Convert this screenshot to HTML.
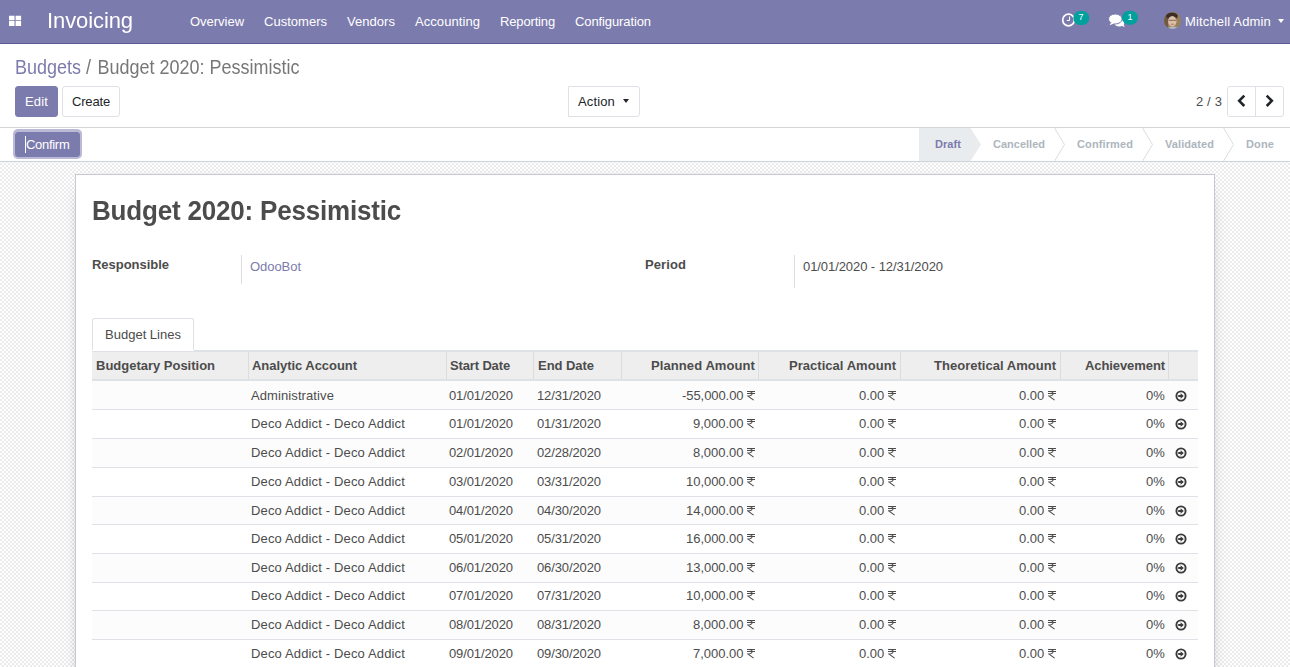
<!DOCTYPE html>
<html><head><meta charset="utf-8">
<style>
*{box-sizing:border-box}
html,body{margin:0;padding:0}
body{width:1290px;height:667px;overflow:hidden;position:relative;font-family:"Liberation Sans",sans-serif;font-size:13px;color:#4c4c4c;background:#fff}
.a{position:absolute;white-space:nowrap;line-height:13px}
.nav{position:absolute;left:0;top:0;width:1290px;height:44px;background:#7c7bad;border-bottom:1px solid #5b5a94}
.sq{position:absolute;background:#fff;width:5px;height:4px}
.cp{position:absolute;left:0;top:44px;width:1290px;height:84px;background:#fff;border-bottom:1px solid #d6d6d6}
.btn{position:absolute;border:1px solid #dee2e6;border-radius:3px;background:#fff}
.btn.pri{background:#7c7bad;border-color:#7c7bad}
.sb{position:absolute;left:0;top:128px;width:1290px;height:34px;background:#fff;border-bottom:1px solid #ced4da}
.bg{position:absolute;left:0;top:162px;width:1290px;height:505px;background-color:#fff;background-image:repeating-conic-gradient(#ebebeb 0 25%,#fff 0 50%);background-size:4px 4px;background-position:0 3px}
.sheet{position:absolute;left:75px;top:174px;width:1140px;height:520px;background:#fff;border:1px solid #c8c8d3;box-shadow:0 5px 20px -15px #000}
.fsep{position:absolute;top:255px;width:1px;height:33px;background:#ddd}
.tab{position:absolute;left:92px;top:318px;width:102px;height:32px;border:1px solid #dee2e6;border-bottom:none;border-radius:3px 3px 0 0;background:#fff;z-index:0}
.thead{position:absolute;background:#eee;border-top:1px solid #dee2e6;border-bottom:2px solid #dee2e6}
.vsep{position:absolute;top:352px;width:1px;height:27px;background:#dcdcdc}
.row{position:absolute;left:92px;width:1106px;border-bottom:1px solid #dee2e6}
.row.o{background:#fcfcfc}
.inr{display:inline-block;width:8px;height:10px;vertical-align:-1px}
.arr{display:block}
.caret{position:absolute;width:0;height:0;border-top:4px solid #fff;border-left:3.5px solid transparent;border-right:3.5px solid transparent}
.avatar{position:absolute;left:1164px;top:12px;width:17px;height:17px;border-radius:50%;background:radial-gradient(circle at 50% 55%,#e9c4a6 0,#c89a7a 30%,#7a5a45 60%,#4a3a30 100%)}
</style></head><body>
<div class="nav">
<svg style="position:absolute;left:0;top:0" width="30" height="30" viewBox="0 0 30 30"><path d="M9 15.8h5.5v4.4H9zM15.6 15.8h5.5v4.4h-5.5zM9 21.1h5.5v4.9H9zM15.6 21.1h5.5v4.9h-5.5z" fill="#fff"/></svg>
<div class="a" style="left:47px;top:10px;font-size:22px;line-height:22px;color:#fff;letter-spacing:-0.092px;transform:scaleY(1.04);transform-origin:0 18px">Invoicing</div>
<div class="a" style="left:190px;top:15px;color:#fff;letter-spacing:-0.023px">Overview</div>
<div class="a" style="left:264.0px;top:15px;color:#fff;letter-spacing:0.016px">Customers</div>
<div class="a" style="left:347.0px;top:15px;color:#fff;letter-spacing:0.040px">Vendors</div>
<div class="a" style="left:415.0px;top:15px;color:#fff;letter-spacing:0.066px">Accounting</div>
<div class="a" style="left:500.0px;top:15px;color:#fff;letter-spacing:-0.155px">Reporting</div>
<div class="a" style="left:575.0px;top:15px;color:#fff;letter-spacing:-0.105px">Configuration</div>
<div class="a" style="left:1185px;top:15px;color:#fff;letter-spacing:0.155px">Mitchell Admin</div>
<div class="caret" style="left:1278px;top:19px;border-top-color:#fff"></div>
<svg style="position:absolute;left:1060px;top:11px" width="30" height="17" viewBox="0 0 30 17"><circle cx="8.5" cy="9" r="5.8" fill="none" stroke="#fff" stroke-width="1.7"/><path d="M9.5 5.5V9.5H6.8" fill="none" stroke="#fff" stroke-width="1"/><rect x="13.3" y="0" width="16" height="14" rx="7" fill="#00a09d"/></svg>
<div class="a" style="left:1078.5px;top:13px;font-size:9px;line-height:9px;color:#fff">7</div>
<svg style="position:absolute;left:1106px;top:10px" width="34" height="18" viewBox="0 0 34 18"><ellipse cx="13.3" cy="13" rx="5" ry="3.6" fill="#fff"/><path d="M15.5 15.5L18.6 17.2 17.6 14z" fill="#fff"/><ellipse cx="9.3" cy="9" rx="6.8" ry="5" fill="#fff" stroke="#7c7bad" stroke-width="1"/><path d="M5.2 12.3L3.6 15.2 8.5 13.2z" fill="#fff"/><rect x="16" y="0.7" width="16" height="14" rx="7" fill="#00a09d"/></svg>
<div class="a" style="left:1127.5px;top:13px;font-size:9px;line-height:9px;color:#fff">1</div>
<svg style="position:absolute;left:1164px;top:12px" width="17" height="17" viewBox="0 0 17 17"><defs><clipPath id="av"><circle cx="8.5" cy="8.5" r="8.5"/></clipPath></defs><filter id="bl"><feGaussianBlur stdDeviation="0.45"/></filter><g clip-path="url(#av)"><rect width="17" height="17" fill="#9a8058"/><g filter="url(#bl)"><rect x="-1" y="0" width="5" height="17" fill="#6f5a40"/><ellipse cx="8" cy="4" rx="5.8" ry="3.6" fill="#3a2e28"/><ellipse cx="8.3" cy="9.3" rx="4.2" ry="5.3" fill="#dcbfa8"/><path d="M4.6 8.3H12.2" stroke="#4a3a34" stroke-width="0.9" opacity=".7"/><ellipse cx="8.3" cy="12.4" rx="1.8" ry="0.8" fill="#c07a70" opacity=".8"/><ellipse cx="9" cy="17.5" rx="6" ry="3" fill="#a9bcc4"/></g></g></svg>
</div>
<div class="cp"></div>
<div class="a" style="left:15px;top:59px;font-size:18px;line-height:18px;color:#7c7bad;letter-spacing:-0.009px;transform:scaleY(1.077);transform-origin:0 15px">Budgets</div>
<div class="a" style="left:86px;top:59px;font-size:18px;line-height:18px;color:#777;transform:scaleY(1.077);transform-origin:0 15px">/</div>
<div class="a" style="left:97.5px;top:59px;font-size:18px;line-height:18px;color:#777;letter-spacing:-0.006px;transform:scaleY(1.077);transform-origin:0 15px">Budget 2020: Pessimistic</div>
<div class="btn pri" style="left:15px;top:86px;width:43px;height:31px"></div>
<div class="a" style="left:25px;top:95px;color:#fff;letter-spacing:0.148px">Edit</div>
<div class="btn" style="left:62px;top:86px;width:58px;height:31px"></div>
<div class="a" style="left:72px;top:95px;color:#212529;letter-spacing:-0.172px">Create</div>
<div class="btn" style="left:568px;top:86px;width:72px;height:31px;border-radius:0 3px 3px 0"></div>
<div class="caret" style="left:623px;top:99px;border-top-color:#212529"></div>
<div class="a" style="left:578px;top:95px;color:#212529;letter-spacing:0.143px">Action</div>
<div class="a" style="left:1196px;top:95px;letter-spacing:0.141px">2 / 3</div>
<div class="btn" style="left:1227px;top:86px;width:57px;height:31px"></div>
<div style="position:absolute;left:1255px;top:87px;width:1px;height:29px;background:#dee2e6"></div>
<svg style="position:absolute;left:1236px;top:94px" width="11" height="14" viewBox="0 0 11 14"><path d="M8.3 1.6L3.2 6.8 8.3 12" fill="none" stroke="#212529" stroke-width="2.6"/></svg>
<svg style="position:absolute;left:1264px;top:94px" width="11" height="14" viewBox="0 0 11 14"><path d="M2.7 1.6L7.8 6.8 2.7 12" fill="none" stroke="#212529" stroke-width="2.6"/></svg>
<div class="sb"></div>
<div class="btn pri" style="left:15px;top:132px;width:65px;height:25px;box-shadow:0 0 0 2px #bab9d6,0 -1px 0 2px #bab9d6"></div>
<div class="a" style="left:26px;top:138px;color:#fff;letter-spacing:-0.074px;letter-spacing:-0.3px">Confirm</div>
<div style="position:absolute;left:25px;top:136px;width:1px;height:17px;background:#fff"></div>
<svg style="position:absolute;left:0;top:128px" width="1290" height="33" viewBox="0 0 1290 33"><path d="M919 0H970.5L981 16.5 970.5 33H919z" fill="#e9ecef"/><path d="M1054 -1L1064.5 16.5 1054 34M1142 -1L1152.5 16.5 1142 34M1223 -1L1233.5 16.5 1223 34" fill="none" stroke="#d9dde2" stroke-width="1"/></svg>
<div class="a" style="left:935px;top:139px;font-size:11px;line-height:11px;font-weight:bold;color:#7c7bad;letter-spacing:0.069px">Draft</div>
<div class="a" style="left:993px;top:139px;font-size:11px;line-height:11px;font-weight:bold;color:#adb5bd">Cancelled</div>
<div class="a" style="left:1077px;top:139px;font-size:11px;line-height:11px;font-weight:bold;color:#adb5bd;letter-spacing:0.111px">Confirmed</div>
<div class="a" style="left:1165px;top:139px;font-size:11px;line-height:11px;font-weight:bold;color:#adb5bd;letter-spacing:0.075px">Validated</div>
<div class="a" style="left:1246px;top:139px;font-size:11px;line-height:11px;font-weight:bold;color:#adb5bd;letter-spacing:0.125px">Done</div>
<div class="bg"></div>
<div class="sheet"></div>
<div class="a" style="left:92px;top:198px;font-size:26px;line-height:26px;font-weight:bold;letter-spacing:-0.186px;transform:scaleY(1.056);transform-origin:0 22px">Budget 2020: Pessimistic</div>
<div class="a" style="left:92px;top:258px;font-weight:bold;letter-spacing:-0.027px">Responsible</div>
<div class="fsep" style="left:241px;height:29px"></div>
<div class="a" style="left:250px;top:260px;color:#7c7bad;letter-spacing:-0.047px">OdooBot</div>
<div class="a" style="left:645px;top:258px;font-weight:bold;letter-spacing:0.091px">Period</div>
<div class="fsep" style="left:794px"></div>
<div class="a" style="left:803px;top:260px;letter-spacing:-0.075px">01/01/2020 - 12/31/2020</div>
<div class="tab"></div>
<div class="a" style="left:105px;top:328px;letter-spacing:0.007px">Budget Lines</div>
<div style="position:absolute;left:194px;top:350px;width:1004px;height:1px;background:#dee2e6"></div>
<div class="thead" style="left:92px;top:351px;width:1106px;height:30px"></div>
<div class="a" style="left:96px;top:359px;font-weight:bold;letter-spacing:-0.010px">Budgetary Position</div>
<div class="vsep" style="left:248px"></div>
<div class="a" style="left:252px;top:359px;font-weight:bold;letter-spacing:-0.044px">Analytic Account</div>
<div class="vsep" style="left:446px"></div>
<div class="a" style="left:450px;top:359px;font-weight:bold;letter-spacing:-0.142px">Start Date</div>
<div class="vsep" style="left:533px"></div>
<div class="a" style="left:538px;top:359px;font-weight:bold;letter-spacing:-0.043px">End Date</div>
<div class="vsep" style="left:621px"></div>
<div class="a" style="right:535px;top:359px;font-weight:bold;letter-spacing:0.087px">Planned Amount</div>
<div class="vsep" style="left:758px"></div>
<div class="a" style="right:394px;top:359px;font-weight:bold;letter-spacing:0.035px">Practical Amount</div>
<div class="vsep" style="left:900px"></div>
<div class="a" style="right:234px;top:359px;font-weight:bold;letter-spacing:0.023px">Theoretical Amount</div>
<div class="vsep" style="left:1060px"></div>
<div class="a" style="right:125px;top:359px;font-weight:bold;letter-spacing:-0.085px">Achievement</div>
<div class="vsep" style="left:1168px"></div>
<div class="row o" style="top:381px;height:29px"></div>
<div class="a" style="left:251px;top:389px;letter-spacing:0.096px">Administrative</div>
<div class="a" style="left:449px;top:389px;letter-spacing:-0.109px">01/01/2020</div>
<div class="a" style="left:537px;top:389px;letter-spacing:-0.109px">12/31/2020</div>
<div class="a" style="right:535px;top:389px;letter-spacing:-0.072px">-55,000.00 <svg class="inr" viewBox="0 0 8 10"><path d="M0 .5H8M0 2.5H8M2 .5C6.3 .5 6.3 4.9 .8 4.9L6.6 9.1" fill="none" stroke="#4c4c4c" stroke-width="1.05"/></svg></div>
<div class="a" style="right:394px;top:389px;letter-spacing:0.016px">0.00 <svg class="inr" viewBox="0 0 8 10"><path d="M0 .5H8M0 2.5H8M2 .5C6.3 .5 6.3 4.9 .8 4.9L6.6 9.1" fill="none" stroke="#4c4c4c" stroke-width="1.05"/></svg></div>
<div class="a" style="right:234px;top:389px;letter-spacing:0.016px">0.00 <svg class="inr" viewBox="0 0 8 10"><path d="M0 .5H8M0 2.5H8M2 .5C6.3 .5 6.3 4.9 .8 4.9L6.6 9.1" fill="none" stroke="#4c4c4c" stroke-width="1.05"/></svg></div>
<div class="a" style="right:125px;top:389px;letter-spacing:0.102px">0%</div>
<div style="position:absolute;left:1174.5px;top:390px"><svg class="arr" width="12" height="12" viewBox="0 0 12 12"><circle cx="6" cy="6" r="4.6" fill="none" stroke="#3a3a3a" stroke-width="1.9"/><path d="M3.2 5.1H5.6V3.2L8.8 6 5.6 8.8V6.9H3.2z" fill="#3a3a3a"/></svg></div>
<div class="row" style="top:410px;height:29px"></div>
<div class="a" style="left:251px;top:417px;letter-spacing:0.147px">Deco Addict - Deco Addict</div>
<div class="a" style="left:449px;top:417px;letter-spacing:-0.109px">01/01/2020</div>
<div class="a" style="left:537px;top:417px;letter-spacing:-0.109px">01/31/2020</div>
<div class="a" style="right:535px;top:417px;letter-spacing:-0.026px">9,000.00 <svg class="inr" viewBox="0 0 8 10"><path d="M0 .5H8M0 2.5H8M2 .5C6.3 .5 6.3 4.9 .8 4.9L6.6 9.1" fill="none" stroke="#4c4c4c" stroke-width="1.05"/></svg></div>
<div class="a" style="right:394px;top:417px;letter-spacing:0.016px">0.00 <svg class="inr" viewBox="0 0 8 10"><path d="M0 .5H8M0 2.5H8M2 .5C6.3 .5 6.3 4.9 .8 4.9L6.6 9.1" fill="none" stroke="#4c4c4c" stroke-width="1.05"/></svg></div>
<div class="a" style="right:234px;top:417px;letter-spacing:0.016px">0.00 <svg class="inr" viewBox="0 0 8 10"><path d="M0 .5H8M0 2.5H8M2 .5C6.3 .5 6.3 4.9 .8 4.9L6.6 9.1" fill="none" stroke="#4c4c4c" stroke-width="1.05"/></svg></div>
<div class="a" style="right:125px;top:417px;letter-spacing:0.102px">0%</div>
<div style="position:absolute;left:1174.5px;top:418px"><svg class="arr" width="12" height="12" viewBox="0 0 12 12"><circle cx="6" cy="6" r="4.6" fill="none" stroke="#3a3a3a" stroke-width="1.9"/><path d="M3.2 5.1H5.6V3.2L8.8 6 5.6 8.8V6.9H3.2z" fill="#3a3a3a"/></svg></div>
<div class="row o" style="top:439px;height:29px"></div>
<div class="a" style="left:251px;top:446px;letter-spacing:0.147px">Deco Addict - Deco Addict</div>
<div class="a" style="left:449px;top:446px;letter-spacing:-0.109px">02/01/2020</div>
<div class="a" style="left:537px;top:446px;letter-spacing:-0.109px">02/28/2020</div>
<div class="a" style="right:535px;top:446px;letter-spacing:-0.026px">8,000.00 <svg class="inr" viewBox="0 0 8 10"><path d="M0 .5H8M0 2.5H8M2 .5C6.3 .5 6.3 4.9 .8 4.9L6.6 9.1" fill="none" stroke="#4c4c4c" stroke-width="1.05"/></svg></div>
<div class="a" style="right:394px;top:446px;letter-spacing:0.016px">0.00 <svg class="inr" viewBox="0 0 8 10"><path d="M0 .5H8M0 2.5H8M2 .5C6.3 .5 6.3 4.9 .8 4.9L6.6 9.1" fill="none" stroke="#4c4c4c" stroke-width="1.05"/></svg></div>
<div class="a" style="right:234px;top:446px;letter-spacing:0.016px">0.00 <svg class="inr" viewBox="0 0 8 10"><path d="M0 .5H8M0 2.5H8M2 .5C6.3 .5 6.3 4.9 .8 4.9L6.6 9.1" fill="none" stroke="#4c4c4c" stroke-width="1.05"/></svg></div>
<div class="a" style="right:125px;top:446px;letter-spacing:0.102px">0%</div>
<div style="position:absolute;left:1174.5px;top:447px"><svg class="arr" width="12" height="12" viewBox="0 0 12 12"><circle cx="6" cy="6" r="4.6" fill="none" stroke="#3a3a3a" stroke-width="1.9"/><path d="M3.2 5.1H5.6V3.2L8.8 6 5.6 8.8V6.9H3.2z" fill="#3a3a3a"/></svg></div>
<div class="row" style="top:468px;height:29px"></div>
<div class="a" style="left:251px;top:475px;letter-spacing:0.147px">Deco Addict - Deco Addict</div>
<div class="a" style="left:449px;top:475px;letter-spacing:-0.109px">03/01/2020</div>
<div class="a" style="left:537px;top:475px;letter-spacing:-0.109px">03/31/2020</div>
<div class="a" style="right:535px;top:475px;letter-spacing:-0.047px">10,000.00 <svg class="inr" viewBox="0 0 8 10"><path d="M0 .5H8M0 2.5H8M2 .5C6.3 .5 6.3 4.9 .8 4.9L6.6 9.1" fill="none" stroke="#4c4c4c" stroke-width="1.05"/></svg></div>
<div class="a" style="right:394px;top:475px;letter-spacing:0.016px">0.00 <svg class="inr" viewBox="0 0 8 10"><path d="M0 .5H8M0 2.5H8M2 .5C6.3 .5 6.3 4.9 .8 4.9L6.6 9.1" fill="none" stroke="#4c4c4c" stroke-width="1.05"/></svg></div>
<div class="a" style="right:234px;top:475px;letter-spacing:0.016px">0.00 <svg class="inr" viewBox="0 0 8 10"><path d="M0 .5H8M0 2.5H8M2 .5C6.3 .5 6.3 4.9 .8 4.9L6.6 9.1" fill="none" stroke="#4c4c4c" stroke-width="1.05"/></svg></div>
<div class="a" style="right:125px;top:475px;letter-spacing:0.102px">0%</div>
<div style="position:absolute;left:1174.5px;top:476px"><svg class="arr" width="12" height="12" viewBox="0 0 12 12"><circle cx="6" cy="6" r="4.6" fill="none" stroke="#3a3a3a" stroke-width="1.9"/><path d="M3.2 5.1H5.6V3.2L8.8 6 5.6 8.8V6.9H3.2z" fill="#3a3a3a"/></svg></div>
<div class="row o" style="top:497px;height:28px"></div>
<div class="a" style="left:251px;top:504px;letter-spacing:0.147px">Deco Addict - Deco Addict</div>
<div class="a" style="left:449px;top:504px;letter-spacing:-0.109px">04/01/2020</div>
<div class="a" style="left:537px;top:504px;letter-spacing:-0.109px">04/30/2020</div>
<div class="a" style="right:535px;top:504px;letter-spacing:-0.047px">14,000.00 <svg class="inr" viewBox="0 0 8 10"><path d="M0 .5H8M0 2.5H8M2 .5C6.3 .5 6.3 4.9 .8 4.9L6.6 9.1" fill="none" stroke="#4c4c4c" stroke-width="1.05"/></svg></div>
<div class="a" style="right:394px;top:504px;letter-spacing:0.016px">0.00 <svg class="inr" viewBox="0 0 8 10"><path d="M0 .5H8M0 2.5H8M2 .5C6.3 .5 6.3 4.9 .8 4.9L6.6 9.1" fill="none" stroke="#4c4c4c" stroke-width="1.05"/></svg></div>
<div class="a" style="right:234px;top:504px;letter-spacing:0.016px">0.00 <svg class="inr" viewBox="0 0 8 10"><path d="M0 .5H8M0 2.5H8M2 .5C6.3 .5 6.3 4.9 .8 4.9L6.6 9.1" fill="none" stroke="#4c4c4c" stroke-width="1.05"/></svg></div>
<div class="a" style="right:125px;top:504px;letter-spacing:0.102px">0%</div>
<div style="position:absolute;left:1174.5px;top:505px"><svg class="arr" width="12" height="12" viewBox="0 0 12 12"><circle cx="6" cy="6" r="4.6" fill="none" stroke="#3a3a3a" stroke-width="1.9"/><path d="M3.2 5.1H5.6V3.2L8.8 6 5.6 8.8V6.9H3.2z" fill="#3a3a3a"/></svg></div>
<div class="row" style="top:525px;height:29px"></div>
<div class="a" style="left:251px;top:532px;letter-spacing:0.147px">Deco Addict - Deco Addict</div>
<div class="a" style="left:449px;top:532px;letter-spacing:-0.109px">05/01/2020</div>
<div class="a" style="left:537px;top:532px;letter-spacing:-0.109px">05/31/2020</div>
<div class="a" style="right:535px;top:532px;letter-spacing:-0.047px">16,000.00 <svg class="inr" viewBox="0 0 8 10"><path d="M0 .5H8M0 2.5H8M2 .5C6.3 .5 6.3 4.9 .8 4.9L6.6 9.1" fill="none" stroke="#4c4c4c" stroke-width="1.05"/></svg></div>
<div class="a" style="right:394px;top:532px;letter-spacing:0.016px">0.00 <svg class="inr" viewBox="0 0 8 10"><path d="M0 .5H8M0 2.5H8M2 .5C6.3 .5 6.3 4.9 .8 4.9L6.6 9.1" fill="none" stroke="#4c4c4c" stroke-width="1.05"/></svg></div>
<div class="a" style="right:234px;top:532px;letter-spacing:0.016px">0.00 <svg class="inr" viewBox="0 0 8 10"><path d="M0 .5H8M0 2.5H8M2 .5C6.3 .5 6.3 4.9 .8 4.9L6.6 9.1" fill="none" stroke="#4c4c4c" stroke-width="1.05"/></svg></div>
<div class="a" style="right:125px;top:532px;letter-spacing:0.102px">0%</div>
<div style="position:absolute;left:1174.5px;top:533px"><svg class="arr" width="12" height="12" viewBox="0 0 12 12"><circle cx="6" cy="6" r="4.6" fill="none" stroke="#3a3a3a" stroke-width="1.9"/><path d="M3.2 5.1H5.6V3.2L8.8 6 5.6 8.8V6.9H3.2z" fill="#3a3a3a"/></svg></div>
<div class="row o" style="top:554px;height:29px"></div>
<div class="a" style="left:251px;top:561px;letter-spacing:0.147px">Deco Addict - Deco Addict</div>
<div class="a" style="left:449px;top:561px;letter-spacing:-0.109px">06/01/2020</div>
<div class="a" style="left:537px;top:561px;letter-spacing:-0.109px">06/30/2020</div>
<div class="a" style="right:535px;top:561px;letter-spacing:-0.047px">13,000.00 <svg class="inr" viewBox="0 0 8 10"><path d="M0 .5H8M0 2.5H8M2 .5C6.3 .5 6.3 4.9 .8 4.9L6.6 9.1" fill="none" stroke="#4c4c4c" stroke-width="1.05"/></svg></div>
<div class="a" style="right:394px;top:561px;letter-spacing:0.016px">0.00 <svg class="inr" viewBox="0 0 8 10"><path d="M0 .5H8M0 2.5H8M2 .5C6.3 .5 6.3 4.9 .8 4.9L6.6 9.1" fill="none" stroke="#4c4c4c" stroke-width="1.05"/></svg></div>
<div class="a" style="right:234px;top:561px;letter-spacing:0.016px">0.00 <svg class="inr" viewBox="0 0 8 10"><path d="M0 .5H8M0 2.5H8M2 .5C6.3 .5 6.3 4.9 .8 4.9L6.6 9.1" fill="none" stroke="#4c4c4c" stroke-width="1.05"/></svg></div>
<div class="a" style="right:125px;top:561px;letter-spacing:0.102px">0%</div>
<div style="position:absolute;left:1174.5px;top:562px"><svg class="arr" width="12" height="12" viewBox="0 0 12 12"><circle cx="6" cy="6" r="4.6" fill="none" stroke="#3a3a3a" stroke-width="1.9"/><path d="M3.2 5.1H5.6V3.2L8.8 6 5.6 8.8V6.9H3.2z" fill="#3a3a3a"/></svg></div>
<div class="row" style="top:583px;height:28px"></div>
<div class="a" style="left:251px;top:589px;letter-spacing:0.147px">Deco Addict - Deco Addict</div>
<div class="a" style="left:449px;top:589px;letter-spacing:-0.109px">07/01/2020</div>
<div class="a" style="left:537px;top:589px;letter-spacing:-0.109px">07/31/2020</div>
<div class="a" style="right:535px;top:589px;letter-spacing:-0.047px">10,000.00 <svg class="inr" viewBox="0 0 8 10"><path d="M0 .5H8M0 2.5H8M2 .5C6.3 .5 6.3 4.9 .8 4.9L6.6 9.1" fill="none" stroke="#4c4c4c" stroke-width="1.05"/></svg></div>
<div class="a" style="right:394px;top:589px;letter-spacing:0.016px">0.00 <svg class="inr" viewBox="0 0 8 10"><path d="M0 .5H8M0 2.5H8M2 .5C6.3 .5 6.3 4.9 .8 4.9L6.6 9.1" fill="none" stroke="#4c4c4c" stroke-width="1.05"/></svg></div>
<div class="a" style="right:234px;top:589px;letter-spacing:0.016px">0.00 <svg class="inr" viewBox="0 0 8 10"><path d="M0 .5H8M0 2.5H8M2 .5C6.3 .5 6.3 4.9 .8 4.9L6.6 9.1" fill="none" stroke="#4c4c4c" stroke-width="1.05"/></svg></div>
<div class="a" style="right:125px;top:589px;letter-spacing:0.102px">0%</div>
<div style="position:absolute;left:1174.5px;top:590px"><svg class="arr" width="12" height="12" viewBox="0 0 12 12"><circle cx="6" cy="6" r="4.6" fill="none" stroke="#3a3a3a" stroke-width="1.9"/><path d="M3.2 5.1H5.6V3.2L8.8 6 5.6 8.8V6.9H3.2z" fill="#3a3a3a"/></svg></div>
<div class="row o" style="top:611px;height:29px"></div>
<div class="a" style="left:251px;top:618px;letter-spacing:0.147px">Deco Addict - Deco Addict</div>
<div class="a" style="left:449px;top:618px;letter-spacing:-0.109px">08/01/2020</div>
<div class="a" style="left:537px;top:618px;letter-spacing:-0.109px">08/31/2020</div>
<div class="a" style="right:535px;top:618px;letter-spacing:-0.026px">8,000.00 <svg class="inr" viewBox="0 0 8 10"><path d="M0 .5H8M0 2.5H8M2 .5C6.3 .5 6.3 4.9 .8 4.9L6.6 9.1" fill="none" stroke="#4c4c4c" stroke-width="1.05"/></svg></div>
<div class="a" style="right:394px;top:618px;letter-spacing:0.016px">0.00 <svg class="inr" viewBox="0 0 8 10"><path d="M0 .5H8M0 2.5H8M2 .5C6.3 .5 6.3 4.9 .8 4.9L6.6 9.1" fill="none" stroke="#4c4c4c" stroke-width="1.05"/></svg></div>
<div class="a" style="right:234px;top:618px;letter-spacing:0.016px">0.00 <svg class="inr" viewBox="0 0 8 10"><path d="M0 .5H8M0 2.5H8M2 .5C6.3 .5 6.3 4.9 .8 4.9L6.6 9.1" fill="none" stroke="#4c4c4c" stroke-width="1.05"/></svg></div>
<div class="a" style="right:125px;top:618px;letter-spacing:0.102px">0%</div>
<div style="position:absolute;left:1174.5px;top:619px"><svg class="arr" width="12" height="12" viewBox="0 0 12 12"><circle cx="6" cy="6" r="4.6" fill="none" stroke="#3a3a3a" stroke-width="1.9"/><path d="M3.2 5.1H5.6V3.2L8.8 6 5.6 8.8V6.9H3.2z" fill="#3a3a3a"/></svg></div>
<div class="row" style="top:640px;height:29px"></div>
<div class="a" style="left:251px;top:647px;letter-spacing:0.147px">Deco Addict - Deco Addict</div>
<div class="a" style="left:449px;top:647px;letter-spacing:-0.109px">09/01/2020</div>
<div class="a" style="left:537px;top:647px;letter-spacing:-0.109px">09/30/2020</div>
<div class="a" style="right:535px;top:647px;letter-spacing:-0.026px">7,000.00 <svg class="inr" viewBox="0 0 8 10"><path d="M0 .5H8M0 2.5H8M2 .5C6.3 .5 6.3 4.9 .8 4.9L6.6 9.1" fill="none" stroke="#4c4c4c" stroke-width="1.05"/></svg></div>
<div class="a" style="right:394px;top:647px;letter-spacing:0.016px">0.00 <svg class="inr" viewBox="0 0 8 10"><path d="M0 .5H8M0 2.5H8M2 .5C6.3 .5 6.3 4.9 .8 4.9L6.6 9.1" fill="none" stroke="#4c4c4c" stroke-width="1.05"/></svg></div>
<div class="a" style="right:234px;top:647px;letter-spacing:0.016px">0.00 <svg class="inr" viewBox="0 0 8 10"><path d="M0 .5H8M0 2.5H8M2 .5C6.3 .5 6.3 4.9 .8 4.9L6.6 9.1" fill="none" stroke="#4c4c4c" stroke-width="1.05"/></svg></div>
<div class="a" style="right:125px;top:647px;letter-spacing:0.102px">0%</div>
<div style="position:absolute;left:1174.5px;top:648px"><svg class="arr" width="12" height="12" viewBox="0 0 12 12"><circle cx="6" cy="6" r="4.6" fill="none" stroke="#3a3a3a" stroke-width="1.9"/><path d="M3.2 5.1H5.6V3.2L8.8 6 5.6 8.8V6.9H3.2z" fill="#3a3a3a"/></svg></div>
</body></html>
